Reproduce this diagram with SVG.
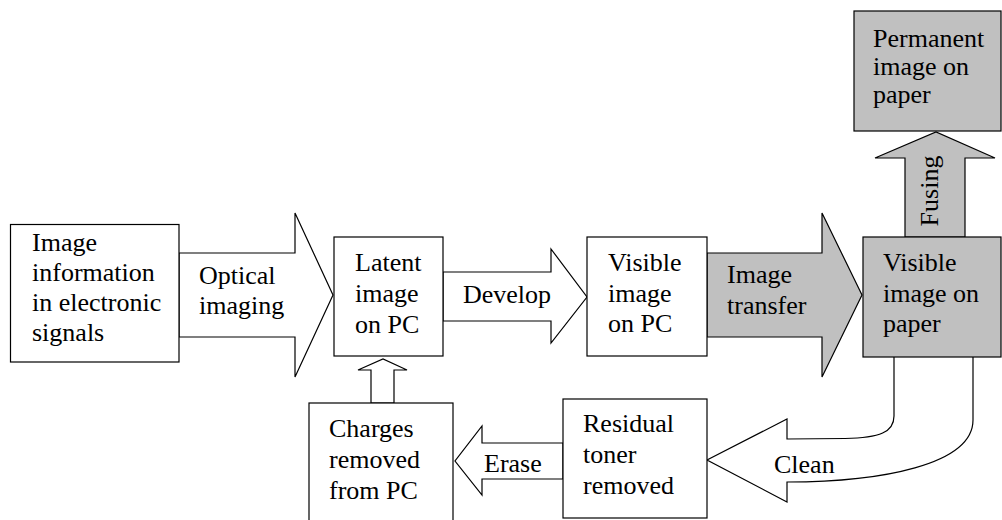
<svg xmlns="http://www.w3.org/2000/svg" width="1002" height="520" viewBox="0 0 1002 520">
<style>
text{font-family:"Liberation Serif","Times New Roman",serif;font-size:26px;fill:#000}
.box{fill:#fff;stroke:#000;stroke-width:1.2}
.gbox{fill:#c0c0c0;stroke:#000;stroke-width:1.2}
.arr{fill:#fff;stroke:#000;stroke-width:1.2;stroke-linejoin:miter}
.garr{fill:#c0c0c0;stroke:#000;stroke-width:1.2;stroke-linejoin:miter}
</style>
<rect width="1002" height="520" fill="#fff"/>
<g id="connectors">
  <polygon class="arr" points="179,253 295,253 295,213 333,295 295,377 295,337 179,337"/>
  <text x="199" y="284">Optical</text>
  <text x="199" y="314">imaging</text>
  <polygon class="arr" points="443,272 551,272 551,249 587,297 551,343 551,321 443,321"/>
  <text x="463" y="303">Develop</text>
  <polygon class="garr" points="707,253 822,253 822,213 862,295 822,377 822,337 707,337"/>
  <text x="727" y="283">Image</text>
  <text x="727" y="314">transfer</text>
  <polygon class="garr" points="905,237 905,158 875,158 936,132 995,158 965,158 965,237"/>
  <text transform="translate(938,191) rotate(-90)" text-anchor="middle">Fusing</text>
  <path class="arr" d="M894,357 L894,416 C894,432 880,438 845,438.5 L787,439 L787,419 L707,460 L787,502 L787,482 C880,482 973,465 973,420 L973,357"/>
  <text x="774" y="473">Clean</text>
  <polygon class="arr" points="563,443 482,443 482,426 455,461 482,495 482,479 563,479"/>
  <text x="484" y="472">Erase</text>
  <polygon class="arr" points="371,403 371,370 358,370 383,359 407,370 394,370 394,403"/>
</g>
<g id="node-image-info">
  <rect class="box" x="10.5" y="224.5" width="168.5" height="137.5"/>
  <text x="32" y="251">Image</text>
  <text x="32" y="281">information</text>
  <text x="32" y="311">in electronic</text>
  <text x="32" y="341">signals</text>
</g>
<g id="node-latent">
  <rect class="box" x="334" y="237" width="109" height="119"/>
  <text x="355" y="271">Latent</text>
  <text x="355" y="302">image</text>
  <text x="355" y="333">on PC</text>
</g>
<g id="node-visible-pc">
  <rect class="box" x="587" y="237" width="120" height="119"/>
  <text x="608" y="271">Visible</text>
  <text x="608" y="302">image</text>
  <text x="608" y="332">on PC</text>
</g>
<g id="node-visible-paper">
  <rect class="gbox" x="863" y="237" width="138" height="120"/>
  <text x="883" y="271">Visible</text>
  <text x="883" y="302">image on</text>
  <text x="883" y="332">paper</text>
</g>
<g id="node-permanent">
  <rect class="gbox" x="854" y="11" width="147" height="120"/>
  <text x="873" y="47">Permanent</text>
  <text x="873" y="75">image on</text>
  <text x="873" y="103">paper</text>
</g>
<g id="node-residual">
  <rect class="box" x="563" y="399" width="144" height="119"/>
  <text x="583" y="432">Residual</text>
  <text x="583" y="463">toner</text>
  <text x="583" y="494">removed</text>
</g>
<g id="node-charges">
  <rect class="box" x="309" y="403" width="144" height="125"/>
  <text x="329" y="437">Charges</text>
  <text x="329" y="468">removed</text>
  <text x="329" y="499">from PC</text>
</g>
</svg>
